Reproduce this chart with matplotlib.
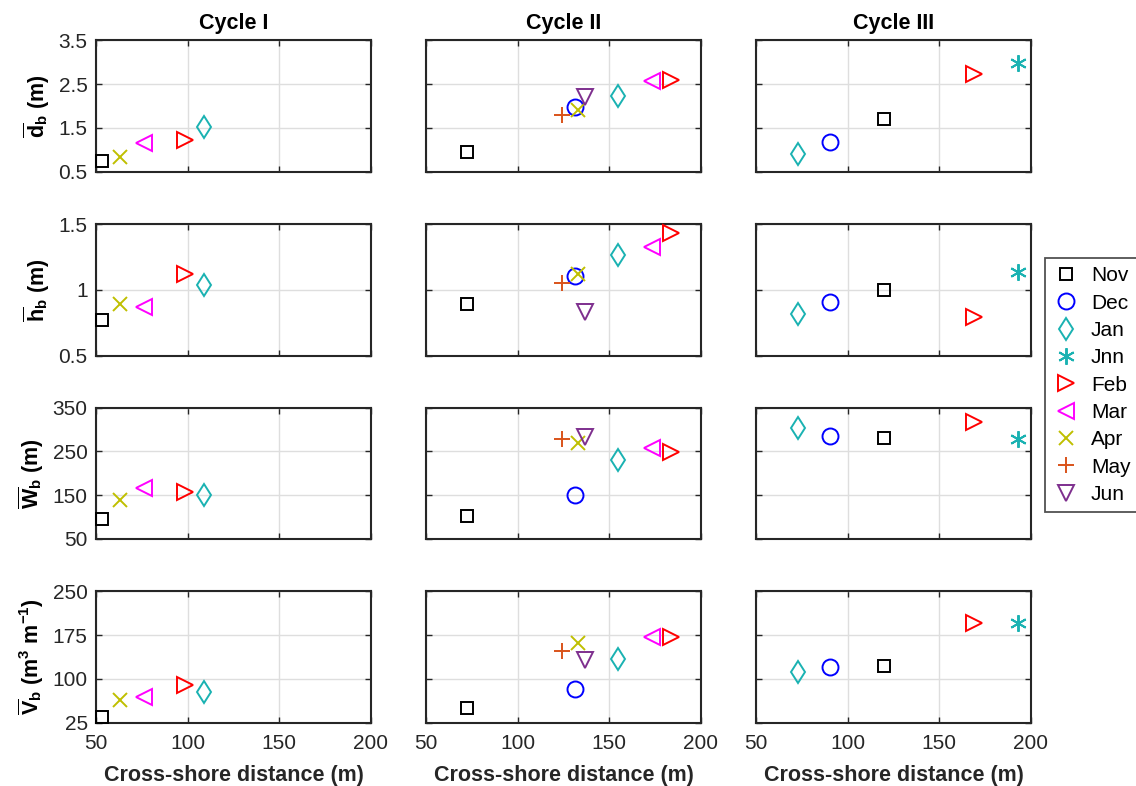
"""
Bar crest depth, height, width and volume against cross-shore distance, per cycle.
"""

import matplotlib
matplotlib.use('Agg')
from matplotlib import pyplot as plt
from matplotlib.ticker import NullFormatter

plt.rcParams['font.family'] = ['Liberation Sans', 'DejaVu Sans']
plt.rcParams['mathtext.fontset'] = 'custom'
plt.rcParams['mathtext.rm'] = 'Liberation Sans'
plt.rcParams['mathtext.bf'] = 'Liberation Sans:bold'
plt.rcParams['mathtext.it'] = 'Liberation Sans:italic'

# month styles (legend order)
months = ['Nov', 'Dec', 'Jan', 'Jnn', 'Feb', 'Mar', 'Apr', 'May', 'Jun']
markers = ['s', 'o', 'd', (6, 2, 0), '>', '<', 'x', '+', 'v']
colors = ['black', 'blue', '#1ab2b2', '#1ab2b2', 'red', 'magenta',
          '#bfbf00', '#d9531a', '#7e2f8e']
sizes = [9, 11.5, 11.5, 12, 12, 12, 10, 12, 12]

cycles = ['Cycle I', 'Cycle II', 'Cycle III']

# Cycle I
c1_months = ['Nov', 'Jan', 'Feb', 'Mar', 'Apr']
c1_x = [53.5, 108.9, 98.5, 76.2, 63.1]
c1_d = [0.74, 1.52, 1.23, 1.15, 0.83]
c1_h = [0.77, 1.04, 1.12, 0.87, 0.89]
c1_w = [95, 151, 158, 166, 140]
c1_v = [35, 77, 89, 69, 63]

# Cycle II
c2_months = ['Nov', 'Dec', 'Jan', 'Feb', 'Mar', 'Apr', 'May', 'Jun']
c2_x = [72.2, 131.1, 154.7, 183.5, 173.5, 133.1, 124.4, 136.7]
c2_d = [0.96, 1.98, 2.23, 2.6, 2.56, 1.91, 1.80, 2.21]
c2_h = [0.89, 1.105, 1.265, 1.43, 1.33, 1.12, 1.054, 0.83]
c2_w = [102, 150, 230, 249, 258, 270, 279, 282]
c2_v = [50, 82, 134, 172, 171, 162, 147, 133]

# Cycle III
c3_months = ['Nov', 'Dec', 'Jan', 'Jnn', 'Feb']
c3_x = [119.7, 90.2, 72.7, 193.1, 168.9]
c3_d = [1.70, 1.17, 0.905, 2.97, 2.74]
c3_h = [0.997, 0.91, 0.814, 1.138, 0.796]
c3_w = [281, 286, 303, 279, 318]
c3_v = [122, 120, 111, 196, 196]

cycle_data = [
    (c1_months, c1_x, [c1_d, c1_h, c1_w, c1_v]),
    (c2_months, c2_x, [c2_d, c2_h, c2_w, c2_v]),
    (c3_months, c3_x, [c3_d, c3_h, c3_w, c3_v]),
]

ylabels = [r'$\mathbf{\overline{d}_b}$ (m)',
           r'$\mathbf{\overline{h}_b}$ (m)',
           r'$\mathbf{\overline{W}_b}$ (m)',
           r'$\mathbf{\overline{V}_b}$ (m$\mathbf{^3}$ m$\mathbf{^{-1}}$)']
ylims = [(0.5, 3.5), (0.5, 1.5), (50, 350), (25, 250)]
yticks = [[0.5, 1.5, 2.5, 3.5], [0.5, 1, 1.5], [50, 150, 250, 350], [25, 100, 175, 250]]
yticklabels = [['0.5', '1.5', '2.5', '3.5'], ['0.5', '1', '1.5'],
               ['50', '150', '250', '350'], ['25', '100', '175', '250']]

W, H = 1136, 786
fig = plt.figure(figsize=(W / 100, H / 100), dpi=100)

col_left = [96, 426, 756]
row_bottom = [171.7, 355.7, 539, 722.7]
ax_w, ax_h = 275, 131.5

handles = {}
for c, (mlist, xs, ylists) in enumerate(cycle_data):
    for r in range(4):
        ax = fig.add_axes([col_left[c] / W, 1 - row_bottom[r] / H, ax_w / W, ax_h / H])
        for i, m in enumerate(mlist):
            k = months.index(m)
            ln, = ax.plot(xs[i], ylists[r][i], linestyle='none', marker=markers[k],
                          markersize=sizes[k], markerfacecolor='none',
                          markeredgecolor=colors[k], markeredgewidth=1.4,
                          color=colors[k], label=m, clip_on=False, zorder=3)
            handles.setdefault(m, ln)
        ax.set_xlim(50, 200)
        ax.set_ylim(*ylims[r])
        ax.set_xticks([50, 100, 150, 200])
        ax.set_yticks(yticks[r])
        ax.grid(True, color='#dedede', linewidth=1.0)
        ax.set_axisbelow(True)
        ax.tick_params(direction='in', length=4, width=1.0, top=True, right=True,
                       labelsize=15, color='#262626', labelcolor='#262626', pad=6)
        for s in ax.spines.values():
            s.set_linewidth(1.5)
            s.set_color('#262626')
        if c == 0:
            ax.set_yticklabels(yticklabels[r])
            ax.set_ylabel(ylabels[r], fontsize=15.5, fontweight='bold', labelpad=5)
        else:
            ax.yaxis.set_major_formatter(NullFormatter())
        if r == 3:
            ax.tick_params(axis='x', pad=8)
            ax.set_xlabel('Cross-shore distance (m)', fontsize=15.5, fontweight='bold',
                          color='#262626', labelpad=9)
        else:
            ax.xaxis.set_major_formatter(NullFormatter())
        if r == 0:
            ax.set_title(cycles[c], fontsize=15.5, fontweight='bold', pad=8)

leg = fig.legend([handles[m] for m in months], months, loc='upper left',
                 bbox_to_anchor=(1045 / W, 1 - 258 / H), fontsize=15,
                 frameon=True, fancybox=False, edgecolor='#262626',
                 handlelength=1.2, handletextpad=0.6, labelspacing=0.4,
                 borderpad=0.4, borderaxespad=0)
leg.get_frame().set_linewidth(1.3)

fig.savefig('out.png', dpi=100)
